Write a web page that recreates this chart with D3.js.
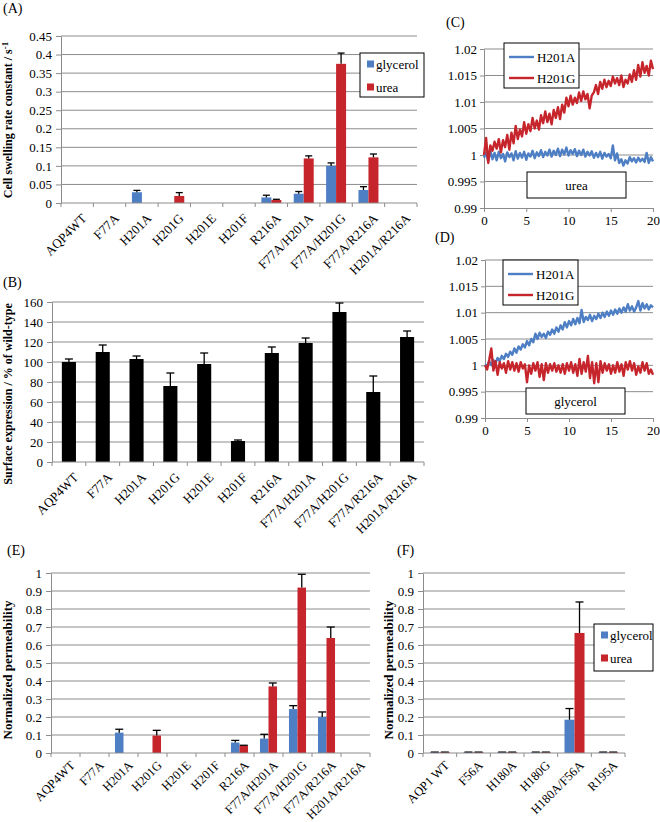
<!DOCTYPE html>
<html>
<head>
<meta charset="utf-8">
<script src="https://cdn.jsdelivr.net/npm/d3@7"></script>
<style>
body { margin: 0; background: #fff; }
svg { display: block; font-family: "Liberation Serif", "Times New Roman", serif; }
</style>
</head>
<body>
<div id="chart"></div>
<script>
"use strict"

//-----------------------------DATA-----------------------------//
const aqp4Mutants = ["AQP4WT", "F77A", "H201A", "H201G", "H201E", "H201F", "R216A",
    "F77A/H201A", "F77A/H201G", "F77A/R216A", "H201A/R216A"];
const aqp1Mutants = ["AQP1 WT", "F56A", "H180A", "H180G", "H180A/F56A", "R195A"];
const solutes = ["glycerol", "urea"];

// (A) cell swelling rate constant / s-1
const swellGlycerol    = [0, 0, 0.029, 0, 0, 0, 0.015, 0.025, 0.100, 0.035, 0];
const swellGlycerolErr = [0, 0, 0.005, 0, 0, 0, 0.006, 0.006, 0.008, 0.009, 0];
const swellUrea        = [0, 0, 0, 0.019, 0, 0, 0.008, 0.120, 0.375, 0.123, 0];
const swellUreaErr     = [0, 0, 0, 0.009, 0, 0, 0.002, 0.007, 0.029, 0.009, 0];
const swellTicks = [0, 0.05, 0.1, 0.15, 0.2, 0.25, 0.3, 0.35, 0.4, 0.45];

// (B) surface expression, % of wild-type
const surfaceExpr    = [100, 110, 103, 76, 98, 21, 109, 119, 150, 70, 125];
const surfaceExprErr = [3, 7, 3, 13, 11, 1, 6, 5, 9, 16, 6];
const surfaceTicks = [0, 20, 40, 60, 80, 100, 120, 140, 160];

// (C) / (D) relative cell volume traces, 0..20 s every 0.25 s
const traceTimes = d3.range(0, 20.001, 0.25);
const ureaH201A = [
    0.9995, 1.0005, 0.9988, 1.0008, 0.9992, 1.0004, 0.9990, 1.0006, 0.9994,
    1.0002, 0.9988, 1.0005, 0.9996, 1.0003, 0.9990, 1.0007, 0.9993, 1.0004,
    0.9995, 1.0006, 0.9991, 1.0003, 0.9997, 1.0008, 0.9994, 1.0005, 0.9998,
    1.0009, 0.9996, 1.0006, 0.9999, 1.0010, 0.9997, 1.0008, 1.0000, 1.0012,
    0.9998, 1.0010, 1.0001, 1.0014, 0.9999, 1.0009, 1.0002, 1.0011, 0.9998,
    1.0008, 1.0000, 1.0010, 0.9997, 1.0006, 0.9999, 1.0007, 0.9995, 1.0004,
    0.9996, 1.0006, 0.9993, 1.0004, 0.9997, 1.0002, 0.9994, 1.0018, 0.9990,
    1.0003, 0.9985, 0.9992, 0.9980, 0.9990, 0.9984, 0.9996, 0.9988, 0.9994,
    0.9986, 0.9995, 0.9988, 0.9993, 0.9987, 1.0004, 0.9985, 0.9996, 0.9988];
const ureaH201G = [
    1.0000, 1.0032, 0.9985, 1.0018, 1.0008, 1.0025, 1.0012, 1.0030, 1.0005,
    1.0028, 1.0015, 1.0038, 1.0010, 1.0042, 1.0022, 1.0055, 1.0030, 1.0048,
    1.0035, 1.0062, 1.0040, 1.0058, 1.0045, 1.0070, 1.0050, 1.0065, 1.0048,
    1.0075, 1.0060, 1.0082, 1.0062, 1.0078, 1.0058, 1.0085, 1.0070, 1.0090,
    1.0068, 1.0095, 1.0080, 1.0108, 1.0092, 1.0112, 1.0095, 1.0108, 1.0098,
    1.0118, 1.0102, 1.0120, 1.0105, 1.0115, 1.0088, 1.0112, 1.0118, 1.0132,
    1.0115, 1.0138, 1.0125, 1.0142, 1.0128, 1.0140, 1.0130, 1.0148, 1.0135,
    1.0145, 1.0132, 1.0150, 1.0128, 1.0142, 1.0135, 1.0152, 1.0138, 1.0160,
    1.0142, 1.0170, 1.0148, 1.0175, 1.0155, 1.0168, 1.0150, 1.0178, 1.0162];
const glycerolH201A = [
    1.0002, 0.9998, 1.0008, 1.0000, 1.0010, 1.0004, 1.0014, 1.0008, 1.0018,
    1.0012, 1.0022, 1.0016, 1.0026, 1.0020, 1.0032, 1.0024, 1.0036, 1.0030,
    1.0040, 1.0034, 1.0046, 1.0038, 1.0050, 1.0044, 1.0060, 1.0050, 1.0062,
    1.0054, 1.0060, 1.0052, 1.0064, 1.0058, 1.0068, 1.0060, 1.0072, 1.0064,
    1.0076, 1.0068, 1.0082, 1.0072, 1.0084, 1.0076, 1.0088, 1.0078, 1.0090,
    1.0080, 1.0105, 1.0082, 1.0092, 1.0086, 1.0096, 1.0084, 1.0094, 1.0088,
    1.0098, 1.0090, 1.0100, 1.0092, 1.0102, 1.0094, 1.0104, 1.0096, 1.0106,
    1.0098, 1.0108, 1.0100, 1.0110, 1.0102, 1.0116, 1.0104, 1.0112, 1.0102,
    1.0110, 1.0122, 1.0104, 1.0118, 1.0108, 1.0116, 1.0106, 1.0114, 1.0110];
const glycerolH201G = [
    1.0000, 0.9992, 1.0010, 1.0032, 0.9990, 1.0008, 0.9982, 1.0006, 0.9994,
    1.0004, 0.9986, 1.0008, 0.9992, 1.0006, 0.9990, 1.0004, 0.9988, 1.0006,
    0.9994, 1.0002, 0.9968, 1.0000, 0.9984, 1.0004, 0.9990, 1.0006, 0.9978,
    1.0002, 0.9972, 1.0004, 0.9986, 1.0002, 0.9990, 1.0004, 0.9988, 1.0000,
    0.9986, 1.0002, 0.9984, 1.0004, 0.9990, 1.0006, 0.9986, 1.0002, 0.9980,
    1.0012, 0.9984, 1.0006, 0.9988, 1.0018, 0.9976, 1.0006, 0.9966, 1.0004,
    0.9968, 1.0008, 0.9986, 1.0004, 0.9990, 1.0002, 0.9984, 1.0000, 0.9986,
    1.0006, 0.9988, 1.0002, 0.9980, 1.0006, 0.9992, 1.0008, 0.9990, 1.0004,
    0.9982, 0.9998, 0.9986, 1.0006, 0.9990, 1.0004, 0.9984, 0.9992, 0.9982];
const traceYTicks = [0.99, 0.995, 1, 1.005, 1.01, 1.015, 1.02];
const traceXTicks = [0, 5, 10, 15, 20];

// (E) normalized permeability, AQP4 mutants
const permGlycerol    = [0, 0, 0.113, 0, 0, 0, 0.058, 0.080, 0.244, 0.200, 0];
const permGlycerolErr = [0, 0, 0.019, 0, 0, 0, 0.012, 0.024, 0.019, 0.028, 0];
const permUrea        = [0, 0, 0, 0.097, 0, 0, 0.041, 0.370, 0.919, 0.639, 0];
const permUreaErr     = [0, 0, 0, 0.029, 0, 0, 0.002, 0.019, 0.074, 0.061, 0];

// (F) normalized permeability, AQP1 mutants
const aqp1Glycerol    = [0.004, 0.004, 0.004, 0.004, 0.185, 0.004];
const aqp1GlycerolErr = [0.001, 0.001, 0.001, 0.001, 0.062, 0.001];
const aqp1Urea        = [0.004, 0.004, 0.004, 0.004, 0.667, 0.004];
const aqp1UreaErr     = [0.001, 0.001, 0.001, 0.001, 0.172, 0.001];
const permTicks = [0, 0.1, 0.2, 0.3, 0.4, 0.5, 0.6, 0.7, 0.8, 0.9, 1];

//----------------------------STYLE-----------------------------//
const blue = "#4e7fc4";
const red = "#c7252c";
const gridColor = "#8c8c8c";

const svg = d3.select("#chart").append("svg")
    .attr("width", 660)
    .attr("height", 822);

// panel letters
const letters = [["(A)", 3, 13], ["(B)", 3, 287], ["(C)", 446, 27],
    ["(D)", 435, 242], ["(E)", 7, 555], ["(F)", 397, 555]];
svg.selectAll(".letter").data(letters).join("text")
    .attr("x", d => d[1]).attr("y", d => d[2])
    .attr("font-size", 14)
    .text(d => d[0]);

//--------------------------BAR PANELS--------------------------//
function barPanel(cfg) {
    const g = svg.append("g");
    const x = d3.scaleBand().domain(cfg.categories).range([cfg.left, cfg.right]);
    const y = d3.scaleLinear().domain([0, d3.max(cfg.ticks)]).range([cfg.bottom, cfg.top]);
    const inner = d3.scaleBand().domain(cfg.series.map(s => s.name))
        .range([0, x.bandwidth()]).paddingOuter(cfg.gap);
    const labelDy = cfg.labelDy || 13;
    const labelSize = cfg.labelSize || 13;

    // gridlines
    g.append("g").selectAll("line").data(cfg.ticks.slice(1)).join("line")
        .attr("x1", cfg.left).attr("x2", cfg.right)
        .attr("y1", d => y(d)).attr("y2", d => y(d))
        .attr("stroke", gridColor);

    // y axis
    const yAxis = d3.axisLeft(y).tickValues(cfg.ticks).tickSize(5).tickSizeOuter(0)
        .tickPadding(4).tickFormat(d => String(d));
    const ya = g.append("g").attr("transform", `translate(${cfg.left},0)`).call(yAxis)
        .attr("font-family", null).attr("font-size", 13);
    ya.selectAll("line, path").attr("stroke", gridColor);
    ya.selectAll("text").attr("fill", "#000");

    // bars + error bars
    cfg.series.forEach(s => {
        const rows = cfg.categories.map((c, i) => ({ c: c, v: s.values[i], e: s.errors[i] }));
        const cx = d => x(d.c) + inner(s.name) + inner.bandwidth() / 2;
        g.append("g").selectAll("rect").data(rows.filter(d => d.v > 0)).join("rect")
            .attr("x", d => x(d.c) + inner(s.name))
            .attr("width", inner.bandwidth())
            .attr("y", d => y(d.v))
            .attr("height", d => y(0) - y(d.v))
            .attr("fill", s.color);
        const eb = g.append("g").attr("stroke", "#000").attr("stroke-width", 1.3)
            .selectAll("g").data(rows.filter(d => d.e > 0)).join("g");
        eb.append("line")
            .attr("x1", cx).attr("x2", cx)
            .attr("y1", d => y(d.v)).attr("y2", d => y(d.v + d.e));
        eb.append("line")
            .attr("x1", d => cx(d) - cfg.cap).attr("x2", d => cx(d) + cfg.cap)
            .attr("y1", d => y(d.v + d.e)).attr("y2", d => y(d.v + d.e));
    });

    // x axis with ticks between categories
    g.append("line")
        .attr("x1", cfg.left).attr("x2", cfg.right)
        .attr("y1", cfg.bottom).attr("y2", cfg.bottom)
        .attr("stroke", gridColor);
    const bounds = cfg.categories.map(c => x(c)).concat([cfg.right]);
    g.append("g").selectAll("line").data(bounds).join("line")
        .attr("x1", d => d).attr("x2", d => d)
        .attr("y1", cfg.bottom).attr("y2", cfg.bottom + 4)
        .attr("stroke", gridColor);
    g.append("g").selectAll("text").data(cfg.categories).join("text")
        .attr("transform", d => `translate(${x(d) + x.bandwidth() / 2 + 7},${cfg.bottom + labelDy}) rotate(-45)`)
        .attr("text-anchor", "end")
        .attr("dy", "0.35em")
        .attr("font-size", labelSize)
        .text(d => d);

    // y title
    const t = g.append("text")
        .attr("transform", `translate(${cfg.titleX},${cfg.titleY}) rotate(-90)`)
        .attr("text-anchor", "middle")
        .attr("font-size", cfg.titleSize)
        .attr("font-weight", "bold")
        .text(cfg.title);
    if (cfg.titleSup) {
        t.append("tspan").attr("dy", "-0.4em").attr("font-size", cfg.titleSize - 3).text(cfg.titleSup);
    }

    // legend
    if (cfg.legend) {
        const L = cfg.legend;
        g.append("rect")
            .attr("x", L.x).attr("y", L.y).attr("width", L.w).attr("height", L.h)
            .attr("fill", "#fff").attr("stroke", "#000");
        const items = g.append("g").selectAll("g").data(cfg.series).join("g")
            .attr("transform", (d, i) => `translate(${L.x + 7},${L.y + 11 + i * 23})`);
        items.append("rect").attr("x", 0).attr("y", -3.5).attr("width", 7).attr("height", 7)
            .attr("fill", d => d.color);
        items.append("text").attr("x", 9).attr("dy", "0.35em").attr("font-size", 13)
            .text(d => d.name);
    }
}

// (A)
barPanel({
    categories: aqp4Mutants, left: 61, right: 417, top: 36, bottom: 203,
    ticks: swellTicks, gap: 0.62, cap: 3.5,
    series: [
        { name: solutes[0], values: swellGlycerol, errors: swellGlycerolErr, color: blue },
        { name: solutes[1], values: swellUrea, errors: swellUreaErr, color: red }],
    title: "Cell swelling rate constant / s", titleSup: "-1",
    titleX: 12, titleY: 120, titleSize: 12,
    legend: { x: 360, y: 53, w: 64, h: 44 }
});

// (B)
barPanel({
    categories: aqp4Mutants, left: 52, right: 424, top: 302, bottom: 462,
    ticks: surfaceTicks, gap: 0.7, cap: 4,
    series: [{ name: "surface", values: surfaceExpr, errors: surfaceExprErr, color: "#000" }],
    title: "Surface expression / % of wild-type",
    titleX: 12, titleY: 394, titleSize: 12
});

// (E)
barPanel({
    categories: aqp4Mutants, left: 51, right: 370, top: 573, bottom: 753,
    ticks: permTicks, gap: 0.7, cap: 4, labelDy: 10, labelSize: 12.5,
    series: [
        { name: solutes[0], values: permGlycerol, errors: permGlycerolErr, color: blue },
        { name: solutes[1], values: permUrea, errors: permUreaErr, color: red }],
    title: "Normalized permeability",
    titleX: 12, titleY: 670, titleSize: 13
});

// (F)
barPanel({
    categories: aqp1Mutants, left: 423, right: 625, top: 573, bottom: 753,
    ticks: permTicks, gap: 0.68, cap: 4, labelDy: 10, labelSize: 12.5,
    series: [
        { name: solutes[0], values: aqp1Glycerol, errors: aqp1GlycerolErr, color: blue },
        { name: solutes[1], values: aqp1Urea, errors: aqp1UreaErr, color: red }],
    title: "Normalized permeability",
    titleX: 393, titleY: 670, titleSize: 13,
    legend: { x: 594, y: 624, w: 59, h: 47 }
});

//-------------------------TRACE PANELS-------------------------//
function tracePanel(cfg) {
    const g = svg.append("g");
    const x = d3.scaleLinear().domain([0, 20]).range([cfg.left, cfg.right]);
    const y = d3.scaleLinear().domain([0.99, 1.02]).range([cfg.bottom, cfg.top]);

    g.append("g").selectAll("line").data(traceYTicks.slice(1)).join("line")
        .attr("x1", cfg.left).attr("x2", cfg.right)
        .attr("y1", d => y(d)).attr("y2", d => y(d))
        .attr("stroke", gridColor);

    const ya = g.append("g").attr("transform", `translate(${cfg.left},0)`)
        .call(d3.axisLeft(y).tickValues(traceYTicks).tickSize(4).tickSizeOuter(0)
            .tickPadding(3).tickFormat(d => String(d)))
        .attr("font-family", null).attr("font-size", 13);
    ya.selectAll("line, path").attr("stroke", gridColor);
    ya.selectAll("text").attr("fill", "#000");

    const xa = g.append("g").attr("transform", `translate(0,${cfg.bottom})`)
        .call(d3.axisBottom(x).tickValues(traceXTicks).tickSize(4).tickSizeOuter(0).tickPadding(4))
        .attr("font-family", null).attr("font-size", 13);
    xa.selectAll("line, path").attr("stroke", gridColor);
    xa.selectAll("text").attr("fill", "#000");

    const line = d3.line()
        .x((d, i) => x(traceTimes[i]))
        .y(d => y(d));
    cfg.series.forEach(s => {
        g.append("path")
            .attr("d", line(s.values))
            .attr("fill", "none")
            .attr("stroke", s.color)
            .attr("stroke-width", 2.4)
            .attr("stroke-linejoin", "round");
    });

    // legend
    const L = cfg.legend;
    g.append("rect").attr("x", L.x).attr("y", L.y).attr("width", 75).attr("height", 45)
        .attr("fill", "#fff").attr("stroke", "#000");
    const items = g.append("g").selectAll("g").data(cfg.legendOrder).join("g")
        .attr("transform", (d, i) => `translate(${L.x + 5},${L.y + 14 + i * 21})`);
    items.append("line").attr("x1", 0).attr("x2", 25)
        .attr("stroke", d => d.color).attr("stroke-width", 2.4);
    items.append("text").attr("x", 28).attr("dy", "0.35em").attr("font-size", 13)
        .text(d => d.name);

    // solute box
    g.append("rect").attr("x", cfg.box.x).attr("y", cfg.box.y).attr("width", 99).attr("height", 26)
        .attr("fill", "#fff").attr("stroke", "#000");
    g.append("text").attr("x", cfg.box.x + 49.5).attr("y", cfg.box.y + 13)
        .attr("dy", "0.35em").attr("text-anchor", "middle").attr("font-size", 13)
        .text(cfg.box.label);
}

// (C) urea
tracePanel({
    left: 484, right: 653, top: 49, bottom: 208,
    series: [
        { name: "H201A", values: ureaH201A, color: blue },
        { name: "H201G", values: ureaH201G, color: red }],
    legendOrder: [{ name: "H201A", color: blue }, { name: "H201G", color: red }],
    legend: { x: 504, y: 43 },
    box: { x: 527, y: 172, label: "urea" }
});

// (D) glycerol
tracePanel({
    left: 485, right: 653, top: 260, bottom: 418,
    series: [
        { name: "H201A", values: glycerolH201A, color: blue },
        { name: "H201G", values: glycerolH201G, color: red }],
    legendOrder: [{ name: "H201A", color: blue }, { name: "H201G", color: red }],
    legend: { x: 503, y: 260 },
    box: { x: 526, y: 388, label: "glycerol" }
});
</script>
</body>
</html>
